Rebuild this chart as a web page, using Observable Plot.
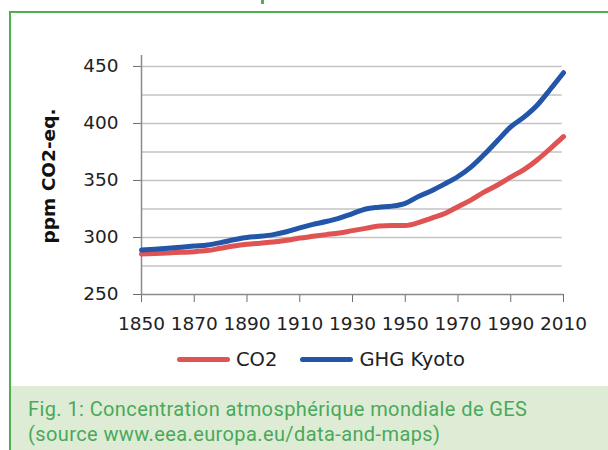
<!DOCTYPE html>
<html>
<head>
<meta charset="utf-8">
<script src="https://cdn.jsdelivr.net/npm/d3@7"></script>
<script src="https://cdn.jsdelivr.net/npm/@observablehq/plot@0.6"></script>
<style>
  html, body { margin: 0; padding: 0; background: #fff; }
  #page { position: relative; width: 608px; height: 450px; overflow: hidden; font-family: "DejaVu Sans", sans-serif; }
  #frame { position: absolute; left: 9px; top: 11px; width: 620px; height: 460px; border-left: 2px solid #4caf50; border-top: 2px solid #4caf50; }
  #tab { position: absolute; left: 261px; top: 0; width: 3px; height: 4px; background: #4caf50; }
  #chart { position: absolute; left: 0; top: 0; }
  #ylabel { position: absolute; left: 48px; top: 176px; transform: translate(-50%, -50%) rotate(-90deg); font-weight: bold; font-size: 18.5px; color: #111; white-space: nowrap; }
  #legend { position: absolute; top: 348px; left: 177px; display: flex; align-items: center; font-size: 19.5px; color: #222; }
  .sw { display: inline-block; width: 53px; height: 5px; border-radius: 3px; margin-right: 6px; }
  .item { display: flex; align-items: center; margin-right: 23px; }
  #caption { position: absolute; left: 11px; top: 386px; width: 597px; height: 64px; background: #deecd6; color: #4aa85a; font-family: Roboto, sans-serif; font-size: 20px; letter-spacing: 0.4px; line-height: 25px; padding: 11px 0 0 17px; box-sizing: border-box; }
</style>
</head>
<body>
<div id="page">
  <div id="tab"></div>
  <div id="frame"></div>
  <div id="chart"></div>
  <div id="ylabel">ppm CO2-eq.</div>
  <div id="legend"></div>
  <div id="caption">Fig. 1: Concentration atmosphérique mondiale de GES<br>(source www.eea.europa.eu/data-and-maps)</div>
</div>
<script>
const years = [1850,1855,1860,1865,1870,1875,1880,1885,1890,1895,1900,1905,1910,1915,1920,1925,1930,1935,1940,1945,1950,1955,1960,1965,1970,1975,1980,1985,1990,1995,2000,2005,2010];
const co2 =   [285.5,286,286.5,287,287.5,288.5,290.5,292.5,294,295,296,297.5,299.5,301,302.5,304,306,308,310,310.5,310.5,313,317,321,327,333,340,346,353,359.5,368,378,388.5];
const ghg =   [289,289.7,290.5,291.5,292.5,293.5,295.5,298,300,301,302.5,305,308.5,311.5,314,317,321,325,326.5,327.5,330,336,341,347,353.5,362,373,385,397,405.5,416,430,444.5];
const seriesNames = ["CO2", "GHG Kyoto"];
const seriesColors = ["#e05353", "#2356a8"];
const yTicks = [250, 300, 350, 400, 450];
const gridValues = [275, 300, 325, 350, 375, 400, 425, 450];
const xTicks = [1850, 1870, 1890, 1910, 1930, 1950, 1970, 1990, 2010];

const rows = [];
years.forEach((y, i) => {
  rows.push({year: y, value: co2[i], series: seriesNames[0]});
  rows.push({year: y, value: ghg[i], series: seriesNames[1]});
});

const plot = Plot.plot({
  width: 608,
  height: 340,
  marginLeft: 141,
  marginRight: 45,
  marginTop: 55,
  marginBottom: 46,
  style: {fontFamily: "'DejaVu Sans', sans-serif", fontSize: "18.5px", color: "#222", background: "transparent"},
  x: {domain: [1850, 2010]},
  y: {domain: [250, 459.6]},
  color: {domain: seriesNames, range: seriesColors},
  marks: [
    Plot.ruleY(gridValues, {x1: 1850, x2: 2009.5, stroke: "#c3c3c3", strokeWidth: 1.5}),
    Plot.axisY({ticks: yTicks, tickSize: 8, tickPadding: 15, label: null, stroke: "#6e6e6e", fill: "#222", fontSize: 18.5}),
    Plot.axisX({ticks: xTicks, tickSize: 8, tickPadding: 14, tickFormat: d => String(d), label: null, stroke: "#6e6e6e", fill: "#222", fontSize: 18.5}),
    Plot.ruleX([1850], {y1: 250, y2: 459.6, stroke: "#8a8a8a", strokeWidth: 1.5}),
    Plot.ruleY([250], {x1: 1850, x2: 2010, stroke: "#8a8a8a", strokeWidth: 1.5}),
    Plot.line(rows, {x: "year", y: "value", stroke: "series", z: "series", strokeWidth: 5, curve: "monotone-x", strokeLinecap: "round"})
  ]
});
document.getElementById("chart").appendChild(plot);

const legend = document.getElementById("legend");
seriesNames.forEach((name, i) => {
  const item = document.createElement("div");
  item.className = "item";
  const sw = document.createElement("span");
  sw.className = "sw";
  sw.style.background = seriesColors[i];
  item.appendChild(sw);
  item.appendChild(document.createTextNode(name));
  legend.appendChild(item);
});
</script>
</body>
</html>
